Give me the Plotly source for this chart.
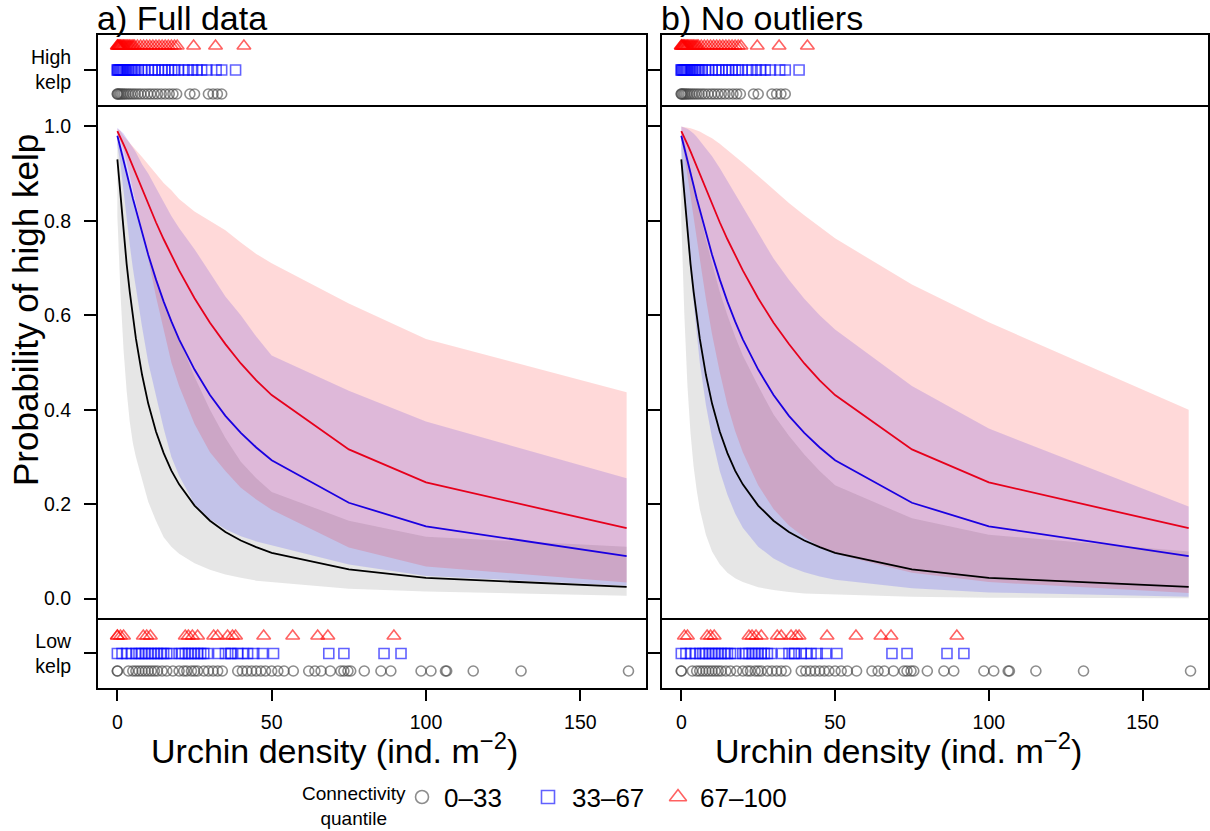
import plotly.graph_objects as go

W, H = 1210, 831
FONT = "Liberation Sans, Arial, Helvetica, sans-serif"

# ---------------------------------------------------------------- data
# prediction grid (urchin density, ind. m^-2)
density_grid = [0, 1, 2, 3, 4, 5, 6, 8, 10, 12.5, 15, 17.5, 20, 25, 30, 35, 40, 45, 50, 75, 100, 165]

# fitted probability of high kelp, per connectivity quantile (same fit drawn in both panels)
fit_q1 = [0.930, 0.851, 0.776, 0.709, 0.650, 0.597, 0.551, 0.474, 0.413, 0.354, 0.308, 0.271,
          0.242, 0.197, 0.165, 0.141, 0.123, 0.109, 0.097, 0.062, 0.044, 0.025]
fit_q2 = [0.980, 0.955, 0.928, 0.902, 0.875, 0.848, 0.823, 0.773, 0.728, 0.676, 0.629, 0.587,
          0.549, 0.485, 0.431, 0.387, 0.351, 0.320, 0.293, 0.203, 0.153, 0.090]
fit_q3 = [0.990, 0.977, 0.962, 0.947, 0.931, 0.915, 0.899, 0.868, 0.836, 0.797, 0.761, 0.727,
          0.695, 0.636, 0.584, 0.539, 0.498, 0.462, 0.431, 0.316, 0.246, 0.149]

# confidence bands, full data
full_q1_lo = [0.810, 0.647, 0.527, 0.440, 0.375, 0.330, 0.300, 0.250, 0.205, 0.165, 0.130, 0.110,
              0.095, 0.075, 0.061, 0.051, 0.044, 0.038, 0.034, 0.021, 0.015, 0.006]
full_q1_hi = [0.985, 0.965, 0.940, 0.910, 0.880, 0.855, 0.830, 0.780, 0.730, 0.680, 0.630, 0.590,
              0.550, 0.470, 0.400, 0.340, 0.290, 0.255, 0.226, 0.165, 0.131, 0.110]
full_q2_lo = [0.960, 0.920, 0.870, 0.810, 0.750, 0.700, 0.655, 0.575, 0.500, 0.430, 0.360, 0.300,
              0.260, 0.200, 0.168, 0.147, 0.132, 0.121, 0.114, 0.072, 0.048, 0.027]
full_q2_hi = [0.997, 0.990, 0.985, 0.975, 0.965, 0.955, 0.945, 0.920, 0.900, 0.870, 0.840, 0.810,
              0.785, 0.740, 0.690, 0.640, 0.600, 0.555, 0.515, 0.440, 0.375, 0.255]
full_q3_lo = [0.985, 0.970, 0.950, 0.925, 0.900, 0.870, 0.840, 0.780, 0.720, 0.640, 0.570, 0.500,
              0.450, 0.370, 0.310, 0.270, 0.235, 0.210, 0.188, 0.108, 0.068, 0.034]
full_q3_hi = [0.995, 0.990, 0.980, 0.972, 0.965, 0.958, 0.950, 0.935, 0.920, 0.900, 0.880, 0.865,
              0.846, 0.820, 0.800, 0.780, 0.754, 0.730, 0.710, 0.625, 0.550, 0.437]

# confidence bands, outliers removed
trim_q1_lo = [0.800, 0.600, 0.450, 0.350, 0.280, 0.230, 0.190, 0.135, 0.100, 0.073, 0.055, 0.043,
              0.035, 0.024, 0.018, 0.014, 0.011, 0.009, 0.008, 0.004, 0.002, 0.001]
trim_q1_hi = [0.990, 0.970, 0.940, 0.910, 0.880, 0.850, 0.820, 0.760, 0.710, 0.650, 0.600, 0.555,
              0.515, 0.450, 0.390, 0.345, 0.305, 0.270, 0.240, 0.170, 0.135, 0.100]
trim_q2_lo = [0.950, 0.860, 0.770, 0.690, 0.620, 0.560, 0.500, 0.410, 0.340, 0.270, 0.220, 0.180,
              0.150, 0.110, 0.085, 0.068, 0.056, 0.047, 0.040, 0.022, 0.013, 0.004]
trim_q2_hi = [1.000, 0.998, 0.995, 0.990, 0.985, 0.978, 0.970, 0.955, 0.937, 0.912, 0.885, 0.858,
              0.830, 0.775, 0.720, 0.675, 0.635, 0.600, 0.570, 0.450, 0.360, 0.195]
trim_q3_lo = [0.975, 0.940, 0.900, 0.855, 0.810, 0.765, 0.720, 0.635, 0.560, 0.480, 0.410, 0.355,
              0.310, 0.240, 0.190, 0.155, 0.130, 0.110, 0.095, 0.055, 0.035, 0.012]
trim_q3_hi = [1.000, 0.999, 0.998, 0.996, 0.994, 0.992, 0.989, 0.982, 0.975, 0.963, 0.950, 0.937,
              0.923, 0.895, 0.866, 0.838, 0.812, 0.787, 0.763, 0.665, 0.585, 0.400]

# observed urchin densities at sites with high kelp, by connectivity quantile
high_q1 = [0, 0, 0.4, 0.8, 1.2, 1.7, 2.2, 2.8, 3.5, 4.2, 5, 5.8, 6.7, 7.6, 8.7, 9.8, 10.8, 11.9,
           13, 14.2, 15.5, 16.8, 18, 19.2, 23.5, 25, 29.5, 31, 32.4, 33.8]
high_q2 = [0, 0, 0.3, 0.6, 0.9, 1.2, 1.5, 1.8, 2.1, 2.5, 2.9, 3.3, 3.8, 4.3, 4.8, 5.4, 6, 6.8,
           7.8, 8.8, 10, 11.2, 12.2, 13.3, 14.5, 15.4, 16.5, 17.6, 18.6, 19.8, 21.6, 23, 24.4,
           25.8, 27.3, 29, 32, 33.8, 38.3]
high_q3 = [0, 0, 0.2, 0.4, 0.6, 0.8, 1, 1.2, 1.5, 1.8, 2, 2.3, 2.6, 3, 3.3, 3.7, 4, 4.4, 4.8,
           5.2, 5.6, 6.5, 7.5, 8.5, 9.5, 10.5, 11.5, 12.5, 13.5, 14.5, 15.5, 16.5, 17.5, 18.5,
           19.4, 24.7, 31.8, 41.0]

# observed urchin densities at sites with low kelp, by connectivity quantile
low_q1 = [0, 0, 3.6, 5, 6, 7, 8, 9, 10, 11, 12, 13, 14.5, 16, 18, 20, 21.5, 22.5, 24, 25, 26,
          28, 29.5, 31, 32.5, 34, 39, 40.5, 42, 43.5, 45, 46.5, 48, 50, 52, 54, 57, 62, 64, 66,
          69, 72.4, 73.4, 74.7, 75.6, 80, 85.4, 88.6, 98.4, 101.6, 106.3, 106.7, 115.3, 130.8,
          165.6]
low_q2 = [0, 1.5, 3, 4.5, 6, 7, 8, 9, 10, 11, 12, 13, 14, 15, 16, 17.5, 20, 21, 22, 23, 24, 25,
          26, 27, 28, 29.2, 32.8, 35, 36.7, 36.9, 39, 40.6, 42.2, 44.2, 47, 50.6, 68.5, 73.4,
          86.4, 91.9]
low_q3_full = [0, 0, 1, 2, 8.4, 9.5, 10.7, 22, 23, 24.3, 26, 31.2, 32.5, 35.7, 37.3, 38.3, 47.4,
               56.8, 64.9, 68.2, 89.6]
low_q3_trim = [1, 2, 8.4, 9.5, 10.7, 22, 23, 24.3, 26, 31.2, 32.5, 35.7, 37.3, 38.3, 47.4,
               56.8, 64.9, 68.2, 89.6]

quantile_labels = ["0\u201333", "33\u201367", "67\u2013100"]
x_ticks = [0, 50, 100, 150]
prob_ticks = [0.0, 0.2, 0.4, 0.6, 0.8, 1.0]

# ---------------------------------------------------------------- styling
LINE_COL = ["black", "#1a00e0", "#e6001c"]
BAND_COL = ["rgba(128,128,128,0.2)", "rgba(0,0,255,0.15)", "rgba(255,0,0,0.15)"]
PT_COL = ["rgba(70,70,70,0.62)", "rgba(0,0,255,0.62)", "rgba(255,0,0,0.62)"]
PT_SYM = ["circle-open", "square-open", "triangle-up-open"]
PT_SIZE = [10, 10, 12]


def fx(px):
    return px / W


def fy(py):
    return 1 - py / H


X_DOM = [[fx(97), fx(647)], [fx(661), fx(1209)]]
Y_TOP = [fy(106), fy(34)]
Y_MAIN = [fy(619), fy(106)]
Y_BOT = [fy(689), fy(619)]
X_RANGE = [-6.6, 171.6]

panels = [
    dict(title="a) Full data",
         bands=[(full_q1_lo, full_q1_hi), (full_q2_lo, full_q2_hi), (full_q3_lo, full_q3_hi)],
         low=[low_q1, low_q2, low_q3_full]),
    dict(title="b) No outliers",
         bands=[(trim_q1_lo, trim_q1_hi), (trim_q2_lo, trim_q2_hi), (trim_q3_lo, trim_q3_hi)],
         low=[low_q1, low_q2, low_q3_trim]),
]
fits = [fit_q1, fit_q2, fit_q3]
highs = [high_q1, high_q2, high_q3]

fig = go.Figure()
layout = dict(
    width=W, height=H, margin=dict(l=0, r=0, t=0, b=0),
    paper_bgcolor="white", plot_bgcolor="rgba(0,0,0,0)",
    showlegend=False, font=dict(family=FONT, color="black", size=19),
    shapes=[], annotations=[],
)

tick_common = dict(ticks="outside", tickwidth=1.6, tickcolor="black", showgrid=False,
                   zeroline=False, showline=False, fixedrange=True,
                   tickfont=dict(family=FONT, size=19.5, color="black"))


def open_marker(q, extra=0):
    return dict(symbol=PT_SYM[q], size=PT_SIZE[q] + extra, color=PT_COL[q],
                line=dict(color=PT_COL[q], width=1.6))


for p, panel in enumerate(panels):
    xa = "x" if p == 0 else "x2"
    ya_top, ya_main, ya_bot = [f"y{3 * p + k}" if 3 * p + k > 1 else "y" for k in (1, 2, 3)]
    # confidence bands
    for q in range(3):
        lo, hi = panel["bands"][q]
        fig.add_trace(go.Scatter(
            x=density_grid + density_grid[::-1], y=hi + lo[::-1],
            fill="toself", fillcolor=BAND_COL[q], line=dict(width=0),
            mode="lines", hoverinfo="skip", xaxis=xa, yaxis=ya_main))
    # fitted lines
    for q in range(3):
        fig.add_trace(go.Scatter(
            x=density_grid, y=fits[q], mode="lines",
            line=dict(color=LINE_COL[q], width=1.8), xaxis=xa, yaxis=ya_main))
    # observations (rugs): high kelp on top strip, low kelp on bottom strip
    for q in range(3):
        for vals, ya in ((highs[q], ya_top), (panel["low"][q], ya_bot)):
            fig.add_trace(go.Scatter(
                x=vals, y=[q + 1] * len(vals), mode="markers", marker=open_marker(q),
                xaxis=xa, yaxis=ya, cliponaxis=False))

    ax_key = "xaxis" if p == 0 else "xaxis2"
    layout[ax_key] = dict(domain=X_DOM[p], range=X_RANGE, anchor=ya_bot,
                          tickvals=x_ticks, ticklen=11, ticklabelstandoff=5, **tick_common)
    show = p == 0
    for name, dom, rng, tv, tt in (
        (ya_top, Y_TOP, [0.5, 3.5], [2], ["High<br>kelp"]),
        (ya_main, Y_MAIN, [-0.0432, 1.0432], prob_ticks, [f"{v:.1f}" for v in prob_ticks]),
        (ya_bot, Y_BOT, [-0.03, 3.97], [2], ["Low<br>kelp"]),
    ):
        key = "yaxis" if name == "y" else "yaxis" + name[1:]
        layout[key] = dict(domain=dom, range=rng, anchor=xa, tickvals=tv, ticktext=tt,
                           ticklen=12, ticklabelstandoff=9, showticklabels=show,
                           **tick_common)
        # panel frame
        layout["shapes"].append(dict(
            type="rect", xref=f"{xa} domain", yref=f"{name} domain",
            x0=0, x1=1, y0=0, y1=1, line=dict(color="black", width=2)))

    left = 97 if p == 0 else 661
    layout["annotations"].append(dict(
        text=panel["title"], x=fx(left - 2), y=fy(18), xref="paper", yref="paper",
        xanchor="left", yanchor="middle", showarrow=False,
        font=dict(family=FONT, size=34, color="black")))
    layout["annotations"].append(dict(
        text="Urchin density (ind. m<sup>\u22122</sup>)", x=fx(left + 52), y=fy(748),
        xref="paper", yref="paper", xanchor="left", yanchor="middle", showarrow=False,
        font=dict(family=FONT, size=34, color="black")))

layout["annotations"].append(dict(
    text="Probability of high kelp", x=fx(25), y=fy(310), xref="paper", yref="paper",
    xanchor="center", yanchor="middle", textangle=-90, showarrow=False,
    font=dict(family=FONT, size=35, color="black")))

# legend along the bottom
key_x = [422, 548, 678]
text_x = [442, 570, 698]
layout["xaxis3"] = dict(domain=[0, 1], range=[0, W], visible=False, fixedrange=True,
                        anchor="y7")
layout["yaxis7"] = dict(domain=[0, 1], range=[H, 0], visible=False, fixedrange=True,
                        anchor="x3")
for q in range(3):
    fig.add_trace(go.Scatter(
        x=[key_x[q]], y=[797], mode="markers", xaxis="x3", yaxis="y7",
        marker=open_marker(q, 3)))
    layout["annotations"].append(dict(
        text=quantile_labels[q], x=fx(text_x[q]), y=fy(798), xref="paper", yref="paper",
        xanchor="left", yanchor="middle", showarrow=False,
        font=dict(family=FONT, size=26, color="black")))
layout["annotations"].append(dict(
    text="Connectivity<br>quantile", x=fx(354), y=fy(806), xref="paper", yref="paper",
    xanchor="center", yanchor="middle", showarrow=False, align="center",
    font=dict(family=FONT, size=19, color="black")))

fig.update_layout(**layout)
fig.write_html("out.html")
